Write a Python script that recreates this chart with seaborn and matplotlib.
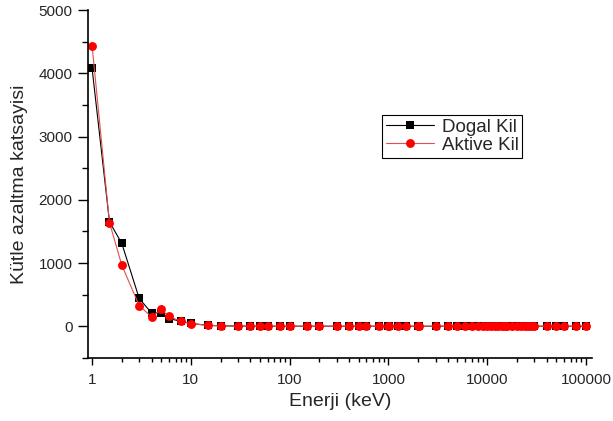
import numpy as np
import pandas as pd
import seaborn as sns
from matplotlib import pyplot as plt
from matplotlib.ticker import MultipleLocator, LogLocator, NullFormatter

# enerji noktalari (keV)
enerji = [1, 1.5, 2, 3, 4, 5, 6, 8, 10, 15, 20, 30, 40, 50, 60, 80, 100, 150, 200,
          300, 400, 500, 600, 800, 1000, 1022, 1250, 1500, 2000, 2044, 3000, 4000,
          5000, 6000, 7000, 8000, 9000, 10000, 11000, 12000, 13000, 14000, 15000,
          16000, 18000, 20000, 22000, 24000, 26000, 28000, 30000, 40000, 50000,
          60000, 80000, 100000]

# 50 keV ve sonrasi (iki numunede neredeyse ayni)
kuyruk = [0.75, 0.5, 0.3, 0.22, 0.16, 0.14, 0.11, 0.097, 0.087, 0.08, 0.07, 0.063,
          0.062, 0.057, 0.051, 0.044, 0.044, 0.036, 0.031, 0.028, 0.026, 0.025,
          0.024, 0.023, 0.022, 0.022, 0.021, 0.021, 0.021, 0.021, 0.021, 0.021,
          0.021, 0.021, 0.022, 0.022, 0.022, 0.023, 0.024, 0.025, 0.026, 0.027,
          0.028]

dogal_kil = [4080, 1650, 1310, 440, 210, 210, 120, 78, 44, 14, 6.4, 2.2, 1.1] + kuyruk
aktive_kil = [4440, 1640, 965, 325, 150, 265, 158, 75, 42, 13, 6.0, 2.1, 1.0] + kuyruk

df = pd.DataFrame({
    "Enerji": enerji * 2,
    "mu": dogal_kil + aktive_kil,
    "Numune": ["Dogal Kil"] * len(enerji) + ["Aktive Kil"] * len(enerji),
})

sns.set_style("ticks")
plt.rcParams['font.family'] = ['Liberation Sans', 'DejaVu Sans']

fig = plt.figure(figsize=(6.13, 4.21), dpi=100)
ax = fig.add_axes([0.1436, 0.150, 0.822, 0.826])

sns.lineplot(data=df, x="Enerji", y="mu", hue="Numune", style="Numune",
             palette={"Dogal Kil": "black", "Aktive Kil": "red"},
             markers={"Dogal Kil": "s", "Aktive Kil": "o"}, dashes=False,
             markersize=6, markeredgewidth=0, linewidth=0.8, ax=ax)

# kirmizi cizgi biraz acik, kare biraz kucuk
for line in ax.get_lines():
    if line.get_color() == "red":
        line.set_color("#e05050")
        line.set_markerfacecolor("red")
        line.set_markersize(6.4)
    elif line.get_marker() == "s":
        line.set_markersize(5.5)

ax.set_xscale("log")
ax.set_xlim(0.91, 115000)
ax.set_ylim(-500, 5000)
ax.set_yticks([0, 1000, 2000, 3000, 4000, 5000])
ax.yaxis.set_minor_locator(MultipleLocator(500))
ax.set_xticks([1, 10, 100, 1000, 10000, 100000])
ax.set_xticklabels(["1", "10", "100", "1000", "10000", "100000"])
ax.xaxis.set_minor_locator(LogLocator(base=10, subs=range(2, 10), numticks=20))
ax.xaxis.set_minor_formatter(NullFormatter())
ax.tick_params(which="both", direction="out", width=1, labelsize=11, color="black",
               bottom=True, left=True)
ax.tick_params(axis="y", which="major", length=7, pad=4)
ax.tick_params(axis="y", which="minor", length=4)
ax.tick_params(axis="x", which="major", length=5, pad=6)
ax.tick_params(axis="x", which="minor", length=3)
for s in ["left", "bottom"]:
    ax.spines[s].set_linewidth(1.2)
    ax.spines[s].set_color("black")
sns.despine(ax=ax)

ax.set_xlabel("Enerji (keV)", fontsize=14)
ax.set_ylabel("Kütle azaltma katsayisi", fontsize=14, labelpad=8)

leg = ax.legend(loc="upper left", bbox_to_anchor=(0.583, 0.698), borderaxespad=0,
                fontsize=13.5, frameon=True, fancybox=False, handlelength=2.6,
                handletextpad=0.4, borderpad=0.2, labelspacing=0.05)
leg.get_frame().set_edgecolor("black")
leg.get_frame().set_linewidth(0.8)
leg.get_frame().set_alpha(1)

fig.savefig("out.png", dpi=100)
